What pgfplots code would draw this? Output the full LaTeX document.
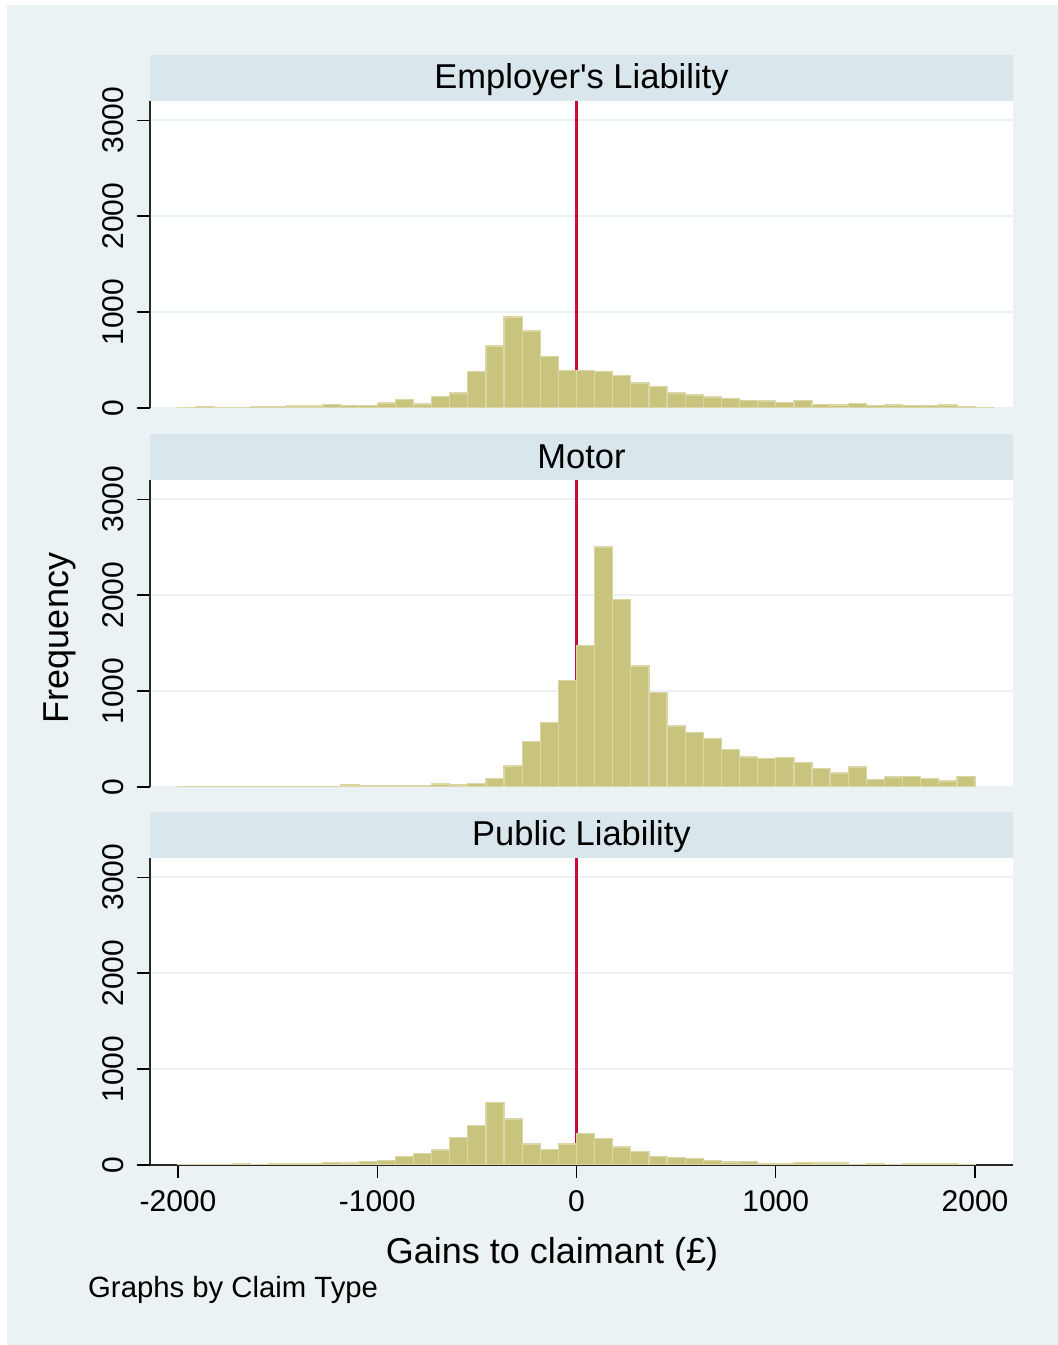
\documentclass[border=0pt]{standalone}
\usepackage{pgfplots}
\pgfplotsset{compat=1.18}
\usepackage{pgfplotstable}
\usepackage{fontspec}
\setmainfont{Liberation Sans}
\definecolor{bg}{RGB}{234,242,243}
\definecolor{strip}{RGB}{217,230,235}
\definecolor{barfill}{RGB}{200,195,125}
\definecolor{barline}{RGB}{218,214,165}
\definecolor{xred}{RGB}{205,10,55}
\definecolor{axisgray}{RGB}{40,40,40}

% Employer's Liability (left bin edges, counts)
\pgfplotstableread{
x y
-2000 8
-1909.1 14
-1818.2 7
-1727.3 7
-1636.4 14
-1545.5 14
-1454.5 21
-1363.6 21
-1272.7 35
-1181.8 28
-1090.9 28
-1000 52
-909.1 87
-818.2 42
-727.3 122
-636.4 157
-545.5 380
-454.5 645
-363.6 948
-272.7 801
-181.8 536
-90.9 390
0 390
90.9 380
181.8 341
272.7 261
363.6 223
454.5 157
545.5 136
636.4 115
727.3 98
818.2 80
909.1 73
1000 59
1090.9 80
1181.8 38
1272.7 31
1363.6 45
1454.5 24
1545.5 31
1636.4 24
1727.3 24
1818.2 31
1909.1 14
2000 7
2090.9 0
}\emp

% Motor
\pgfplotstableread{
x y
-2000 4
-1909.1 4
-1818.2 4
-1727.3 4
-1636.4 4
-1545.5 4
-1454.5 6
-1363.6 6
-1272.7 8
-1181.8 20
-1090.9 12
-1000 15
-909.1 15
-818.2 15
-727.3 30
-636.4 22
-545.5 36
-454.5 85
-363.6 219
-272.7 474
-181.8 674
-90.9 1111
0 1473
90.9 2500
181.8 1952
272.7 1261
363.6 986
454.5 636
545.5 566
636.4 504
727.3 390
818.2 313
909.1 295
1000 309
1090.9 257
1181.8 195
1272.7 146
1363.6 208
1454.5 80
1545.5 104
1636.4 111
1727.3 87
1818.2 63
1909.1 108
2000 0
}\mot

% Public Liability
\pgfplotstableread{
x y
-2000 4
-1909.1 4
-1818.2 4
-1727.3 10
-1636.4 4
-1545.5 10
-1454.5 17
-1363.6 10
-1272.7 28
-1181.8 21
-1090.9 35
-1000 45
-909.1 91
-818.2 122
-727.3 156
-636.4 288
-545.5 410
-454.5 653
-363.6 479
-272.7 219
-181.8 163
-90.9 219
0 326
90.9 278
181.8 188
272.7 139
363.6 90
454.5 80
545.5 66
636.4 49
727.3 31
818.2 38
909.1 14
1000 14
1090.9 28
1181.8 21
1272.7 21
1363.6 7
1454.5 14
1545.5 4
1636.4 10
1727.3 10
1818.2 14
1909.1 7
2000 0
}\pub

\pgfplotsset{
  panel/.style={
    scale only axis, width=863bp, height=307bp,
    xmin=-2140.5, xmax=2190.7, ymin=0, ymax=3200,
    axis background/.style={fill=white},
    ytick={0,1000,2000,3000},
    ymajorgrids, grid style={bg, line width=2bp},
    axis y line*=left,
    axis line style={axisgray, line width=2bp},
    tick align=outside, major tick length=13bp,
    tick style={black, line width=1.3bp},
    /pgf/number format/assume math mode=true,
    /pgf/number format/1000 sep={},
    yticklabel style={rotate=90, anchor=south, font=\fontsize{30bp}{36bp}\selectfont},
    yticklabel shift=10bp,
    xticklabel style={font=\fontsize{30bp}{36bp}\selectfont},
    xticklabel shift=9bp,
  },
  hist/.style={ybar interval, fill=barfill, draw=barline, line width=1.3bp},
  zline/.style={xred, line width=2.3bp, forget plot},
}

\begin{document}
\begin{tikzpicture}
\fill[white] (0bp,0bp) rectangle (1058bp,1345bp);
\fill[bg] (7bp,0bp) rectangle (1058bp,1340bp);

% Panel 1
\begin{axis}[panel, at={(150bp,937bp)}, anchor=south west, axis x line=none]
\addplot[zline] coordinates {(0,0) (0,3200)};
\addplot[hist] table[x=x, y=y] {\emp};
\end{axis}
\fill[strip] (150bp,1244bp) rectangle (1013bp,1290bp);
\node[font=\fontsize{34.5bp}{40bp}\selectfont] at (581.5bp,1265bp) {Employer\textquotesingle s Liability};

% Panel 2
\begin{axis}[panel, at={(150bp,558bp)}, anchor=south west, axis x line=none]
\addplot[zline] coordinates {(0,0) (0,3200)};
\addplot[hist] table[x=x, y=y] {\mot};
\end{axis}
\fill[strip] (150bp,865bp) rectangle (1013bp,911bp);
\node[font=\fontsize{34.5bp}{40bp}\selectfont] at (581.5bp,888bp) {Motor};

% Panel 3
\begin{axis}[panel, at={(150bp,180bp)}, anchor=south west, axis x line*=bottom,
  xtick={-2000,-1000,0,1000,2000}]
\addplot[zline] coordinates {(0,0) (0,3200)};
\addplot[hist] table[x=x, y=y] {\pub};
\end{axis}
\fill[strip] (150bp,487bp) rectangle (1013bp,533bp);
\node[font=\fontsize{34.5bp}{40bp}\selectfont] at (581.5bp,508bp) {Public Liability};

\node[font=\fontsize{36bp}{42bp}\selectfont] at (552bp,91bp) {Gains to claimant (£)};
\node[font=\fontsize{36bp}{42bp}\selectfont, rotate=90] at (60bp,707bp) {Frequency};
\node[font=\fontsize{29.3bp}{35bp}\selectfont, anchor=west, inner sep=0pt] at (88bp,55bp) {Graphs by Claim Type};

\pgfresetboundingbox
\path[use as bounding box] (0bp,0bp) rectangle (1058bp,1345bp);
\end{tikzpicture}
\end{document}
